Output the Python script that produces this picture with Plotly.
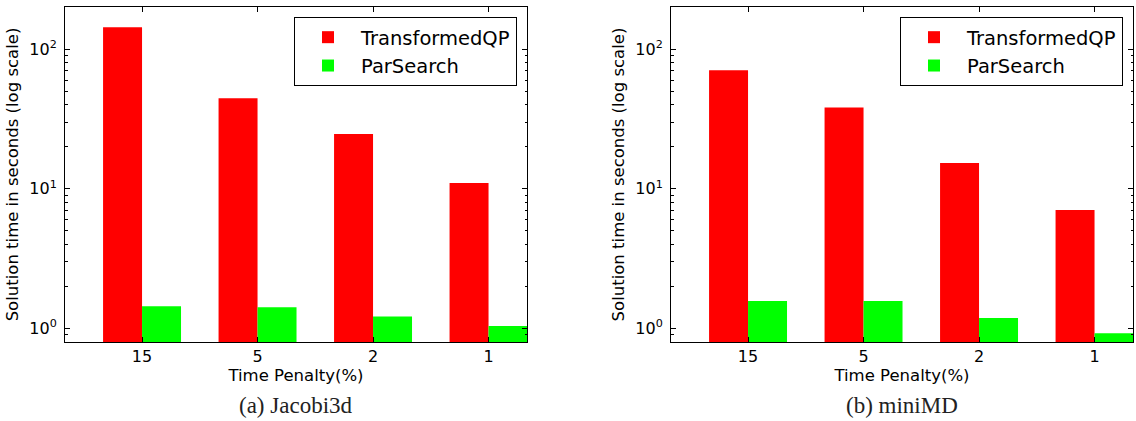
import plotly.graph_objects as go

# Time penalty categories (percent)
penalties = ["15", "5", "2", "1"]

# Solution times in seconds, Jacobi3d
jacobi_qp = [143.0, 44.5, 24.7, 11.0]
jacobi_ps = [1.44, 1.42, 1.22, 1.04]

# Solution times in seconds, miniMD
minimd_qp = [70.5, 38.2, 15.3, 7.05]
minimd_ps = [1.57, 1.57, 1.19, 0.925]

series_names = ["TransformedQP", "ParSearch"]
captions = ["(a) Jacobi3d", "(b) miniMD"]
ytick_vals = [1, 10, 100]
ytick_text = ["10<sup>0</sup>", "10<sup>1</sup>", "10<sup>2</sup>"]

W, H = 1136, 421
RED, GREEN = "#ff0000", "#00ff00"
FONT = "DejaVu Sans"

fig = go.Figure()

# Plot frames in pixels: (left, right), shared top/bottom
frames = [(65, 527), (671, 1133)]
top_px, bot_px = 7, 342
ydom = [1 - bot_px / H, 1 - top_px / H]

panels = [(jacobi_qp, jacobi_ps), (minimd_qp, minimd_ps)]
for i, (qp, ps) in enumerate(panels):
    n = "" if i == 0 else str(i + 1)
    legend_id = "legend" if i == 0 else "legend2"
    for name, vals, col in zip(series_names, (qp, ps), (RED, GREEN)):
        fig.add_trace(go.Bar(
            x=penalties, y=vals, name=name,
            marker=dict(color=col, line=dict(width=0)),
            xaxis="x" + n, yaxis="y" + n, legend=legend_id,
        ))

axis_common = dict(
    showline=True, linecolor="black", linewidth=1, mirror="allticks",
    ticks="inside", tickcolor="black", tickwidth=1,
    showgrid=False, zeroline=False,
    tickfont=dict(family=FONT, size=16, color="black"),
)

layout = dict(
    width=W, height=H,
    margin=dict(l=0, r=0, t=0, b=0),
    paper_bgcolor="white", plot_bgcolor="white",
    barmode="group", bargap=0.325, bargroupgap=0,
    font=dict(family=FONT, color="black"),
    showlegend=True,
)

legend_pos = [(517, 17), (1123, 17)]
for i, (l, r) in enumerate(frames):
    n = "" if i == 0 else str(i + 1)
    xa = dict(
        axis_common,
        domain=[l / W, r / W],
        type="category", categoryorder="array", categoryarray=penalties,
        range=[-0.667, 3.333], ticklen=5,
        anchor="y" + n,
        title=dict(text="Time Penalty(%)", font=dict(family=FONT, size=16.5, color="black"), standoff=2),
    )
    ya = dict(
        axis_common,
        domain=ydom,
        type="log", range=[-0.0969, 2.30103],
        tickmode="array", tickvals=ytick_vals, ticktext=ytick_text, ticklen=5,
        ticklabelstandoff=4,
        minor=dict(ticks="inside", ticklen=2.5, tickcolor="black", tickwidth=1,
                   tickvals=[0.8, 0.9, 2, 3, 4, 5, 6, 7, 8, 9, 20, 30, 40, 50, 60, 70, 80, 90, 200],
                   showgrid=False),
        anchor="x" + n,
        title=dict(text="Solution time in seconds (log scale)",
                   font=dict(family=FONT, size=16.5, color="black"), standoff=6),
    )
    layout["xaxis" + n] = xa
    layout["yaxis" + n] = ya

    lx, ly = legend_pos[i]
    layout["legend" if i == 0 else "legend2"] = dict(
        x=lx / W, y=1 - ly / H, xanchor="right", yanchor="top",
        bgcolor="white", bordercolor="black", borderwidth=1,
        font=dict(family=FONT, size=19.5, color="black"),
        itemwidth=56, tracegroupgap=0,
    )

fig.update_layout(**layout)

# Sub-figure captions
for i, (l, r) in enumerate(frames):
    fig.add_annotation(
        text=captions[i], xref="paper", yref="paper",
        x=(l + r) / 2 / W, y=1 - 405 / H, xanchor="center", yanchor="middle",
        showarrow=False, font=dict(family="Liberation Serif", size=23, color="#222222"),
    )

fig.write_html("out.html")
